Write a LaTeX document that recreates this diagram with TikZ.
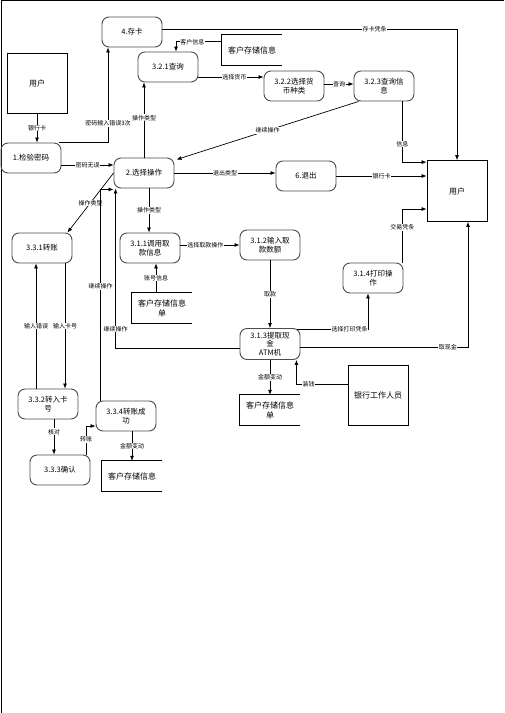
\documentclass[tikz,border=0pt]{standalone}
\usepackage{fontspec}
\setmainfont{Noto Sans CJK SC}
\usetikzlibrary{arrows.meta,calc}
\begin{document}
\begin{tikzpicture}[x=1pt,y=-1pt,
 proc/.style={draw=gray!60!black, line width=0.9pt, rounded corners=7pt, minimum width=60pt, minimum height=30pt, align=center, font=\fontsize{7.5}{9}\selectfont, inner sep=1pt},
 ent/.style={draw, line width=0.8pt, minimum width=60pt, minimum height=60pt, font=\fontsize{8}{10}\selectfont},
 store/.style={minimum width=60pt, minimum height=30pt, align=center, font=\fontsize{8}{10}\selectfont, inner sep=1pt},
 arr/.style={-{Latex[length=5pt,width=4pt]}, line width=0.7pt},
 lbl/.style={fill=white, inner sep=0.5pt, font=\fontsize{6}{7}\selectfont}]
\useasboundingbox (0,0) rectangle (504,713);
\draw[line width=1pt] (1,713) -- (1,0.5) -- (504,0.5);

\node[proc] (p4) at (132,32) {4.存卡};
\node[ent] (u1) at (37,83) {用户};
\node[proc] (p321) at (168,67) {3.2.1查询};
\node[store] (s1) at (252,50) {客户存储信息};
\node[proc] (p322) at (294,86) {3.2.2选择货\\币种类};
\node[proc] (p323) at (384,86) {3.2.3查询信\\息};
\node[ent, minimum height=61pt] (u2) at (457,191) {用户};
\node[proc] (p1) at (31,158) {1.检验密码};
\node[proc] (p2) at (144,173) {2.选择操作};
\node[proc] (p6) at (306,176) {6.退出};
\node[proc] (p331) at (42,248) {3.3.1转账};
\node[proc] (p311) at (150,248) {3.1.1调用取\\款信息};
\node[proc] (p312) at (270,245) {3.1.2输入取\\款数额};
\node[store] (s2) at (162,308) {客户存储信息\\单};
\node[proc] (p314) at (373,278) {3.1.4打印操\\作};
\node[proc, minimum height=31pt, font=\fontsize{7.5}{8.5}\selectfont] (p313) at (270,344) {3.1.3提取现\\金\\ATM机};
\node[store] (s3) at (270,410) {客户存储信息\\单};
\node[ent] (bank) at (378,395) {银行工作人员};
\node[proc] (p332) at (48,404) {3.3.2转入卡\\号};
\node[proc] (p334) at (126,416) {3.3.4转账成\\功};
\node[proc] (p333) at (60,470) {3.3.3确认};
\node[store] (s4) at (132,476) {客户存储信息};

\foreach \s in {s1,s2,s3,s4}
  \draw[line width=0.8pt] (\s.north east) -- (\s.north west) -- (\s.south west) -- (\s.south east);

\draw[arr] (u1.south) -- node[lbl]{银行卡} (u1.south |- p1.north);
\draw[arr] ($(p1.north east)+(-2,0)$) -| node[lbl,pos=0.6]{密码输入错误3次} ($(p4.south)+(-24,0)$);
\draw[arr] ($(p1.east)+(0,7)$) coordinate(a1) -- node[lbl]{密码无误} (a1 -| p2.west);
\draw[arr] ($(p4.east)+(0,-3)$) -| node[lbl,pos=0.36]{存卡凭条} (u2.north);
\draw[arr] ($(s1.north west)+(0,7)$) -| node[lbl,pos=0.32]{客户信息} ($(p321.north)+(8,0)$);
\draw[arr] ($(p321.east)+(0,10)$) coordinate(a2) -- node[lbl,pos=0.55]{选择货币} (a2 -| p322.west);
\draw[arr] ($(p322.east)+(0,-2)$) coordinate(a3) -- node[lbl]{查询} (a3 -| p323.west);
\draw[arr] ($(p323.south west)+(5,0)$) -- node[lbl]{继续操作} ($(p2.north east)+(2,2)$);
\draw[arr] ($(p323.south east)+(-12,0)$) |- node[lbl,pos=0.35]{信息} ($(u2.north west)+(0,2)$);
\draw[arr] (p2.north) -- node[lbl,pos=0.53]{操作类型} (p2.north |- p321.south);
\draw[arr] (p2.east) -- node[lbl]{退出类型} (p2.east -| p6.west);
\draw[arr] (p6.east) -- node[lbl]{银行卡} (p6.east -| u2.west);
\draw[arr] (p2.west) -- node[lbl]{操作类型} ($(p331.north east)+(-5,0)$);
\draw[arr] ($(p2.south)+(5,0)$) coordinate(a4) -- node[lbl]{操作类型} (a4 |- p311.north);
\draw[arr] ($(p311.east)+(0,-3)$) coordinate(a5) -- node[lbl,pos=0.42]{选择取款操作} (a5 -| p312.west);
\draw[arr] ($(s2.north)+(-6,0)$) coordinate(a6) -- node[lbl]{账号信息} (a6 |- p311.south);
\draw[arr] (p312.south) -- node[lbl]{取款} (p313.north);
\draw[arr] ($(p313.north east)+(-3,1)$) -| node[lbl,pos=0.37]{选择打印凭条} ($(p314.south)+(-5,0)$);
\draw[arr] ($(p314.north east)+(-1,0)$) |- node[lbl,pos=0.33]{交易凭条} ($(u2.west)+(0,18)$);
\draw[arr] ($(p313.east)+(0,3)$) -| node[lbl,pos=0.44]{取现金} ($(u2.south)+(11,0)$);
\draw[arr] (p313.south) -- node[lbl]{金额变动} (s3.north);
\draw[arr] ($(bank.west)+(0,-11)$) -| node[lbl,pos=0.38]{装钱} ($(p313.south east)+(-4,0)$);
\draw[arr] ($(p313.west)+(0,4)$) -| node[lbl,pos=0.56]{继续操作} ($(p2.south west)+(2,0)$);
\draw[arr] ($(p334.north west)+(5,0)$) |- node[lbl,pos=0.27]{继续操作} ($(p2.south west)+(0,1)$);
\draw[arr] ($(p331.south)+(23,0)$) coordinate(a7) -- node[lbl]{输入卡号} (a7 |- p332.north);
\draw[arr] ($(p332.north)+(-12,0)$) coordinate(a8) -- node[lbl]{输入错误} (a8 |- p331.south);
\draw[arr] ($(p332.south)+(6,0)$) coordinate(a9) -- node[lbl,pos=0.35]{核对} (a9 |- p333.north);
\draw[arr] ($(p333.north)+(26,0)$) |- node[lbl,pos=0.26]{转账} ($(p334.west)+(0,10)$);
\draw[arr] ($(p334.south)+(6,0)$) coordinate(b1) -- node[lbl]{金额变动} (b1 |- s4.north);
\end{tikzpicture}
\end{document}
